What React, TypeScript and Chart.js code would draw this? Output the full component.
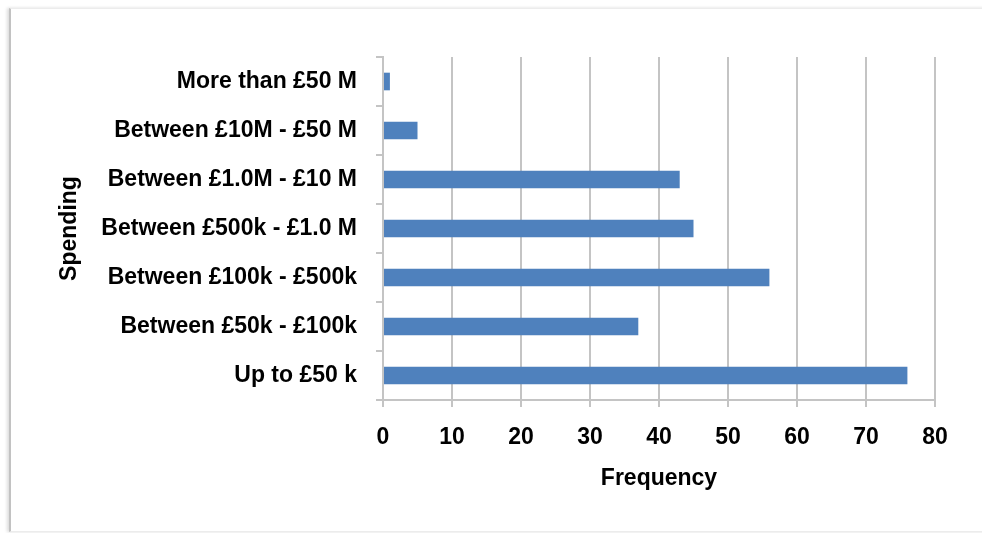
import React, { useEffect, useRef } from "react";
import { Chart, registerables } from "chart.js";

Chart.register(...registerables);

const categories = [
  "More than £50 M",
  "Between £10M - £50 M",
  "Between £1.0M - £10 M",
  "Between £500k - £1.0 M",
  "Between £100k - £500k",
  "Between £50k - £100k",
  "Up to £50 k",
];
const frequency = [1, 5, 43, 45, 56, 37, 76];
const xMin = 0;
const xMax = 80;
const xStep = 10;

const FONT = "'Liberation Sans', Arial, sans-serif";

export default function App() {
  const ref = useRef<HTMLCanvasElement | null>(null);

  useEffect(() => {
    if (!ref.current) return;
    const chart = new Chart(ref.current, {
      type: "bar",
      data: {
        labels: categories,
        datasets: [
          {
            label: "Frequency",
            data: frequency,
            backgroundColor: "#4F81BD",
            borderWidth: 0,
            barPercentage: 0.36,
            categoryPercentage: 1,
          },
        ],
      },
      options: {
        indexAxis: "y",
        animation: false,
        responsive: false,
        maintainAspectRatio: false,
        layout: { padding: { left: 0, top: 57, right: 47, bottom: 0 } },
        plugins: {
          legend: { display: false },
          tooltip: { enabled: false },
        },
        scales: {
          x: {
            type: "linear",
            min: xMin,
            max: xMax,
            ticks: {
              stepSize: xStep,
              padding: 17,
              color: "#000",
              font: { family: FONT, size: 23, weight: "bold" },
            },
            grid: {
              color: "#c4c4c4",
              lineWidth: 2,
              tickLength: 7,
              drawTicks: true,
            },
            border: { display: true, color: "#c4c4c4", width: 2 },
            title: {
              display: true,
              text: "Frequency",
              color: "#000",
              font: { family: FONT, size: 23, weight: "bold" },
              padding: { top: 0, bottom: 41 },
            },
            afterFit: (s: any) => {
              s.height = 133;
            },
          },
          y: {
            type: "category",
            ticks: {
              padding: 19,
              color: "#000",
              font: { family: FONT, size: 23, weight: "bold" },
            },
            grid: {
              drawOnChartArea: false,
              drawTicks: true,
              tickLength: 7,
              color: "#c4c4c4",
              lineWidth: 2,
            },
            border: { display: true, color: "#c4c4c4", width: 2 },
            title: {
              display: true,
              text: "Spending",
              color: "#000",
              font: { family: FONT, size: 23, weight: "bold" },
              padding: { top: 56, bottom: 0 },
            },
            afterFit: (s: any) => {
              s.width = 383;
            },
          },
        },
      },
    });
    return () => chart.destroy();
  }, []);

  return (
    <div
      style={{
        position: "absolute",
        left: 0,
        top: 0,
        width: 982,
        height: 533,
        background: "#fff",
        overflow: "hidden",
      }}
    >
      <div
        style={{
          position: "absolute",
          left: 9,
          top: 8,
          width: 990,
          height: 522,
          borderLeft: "2px solid #c2c2c2",
          borderTop: "1px solid #ececec",
          borderBottom: "1px solid #ececec",
          boxShadow: "-2px 0 3px #dddddd",
          background: "#fff",
        }}
      />
      <canvas
        ref={ref}
        width={982}
        height={533}
        style={{ position: "absolute", left: 0, top: 0, width: 982, height: 533 }}
      />
    </div>
  );
}
